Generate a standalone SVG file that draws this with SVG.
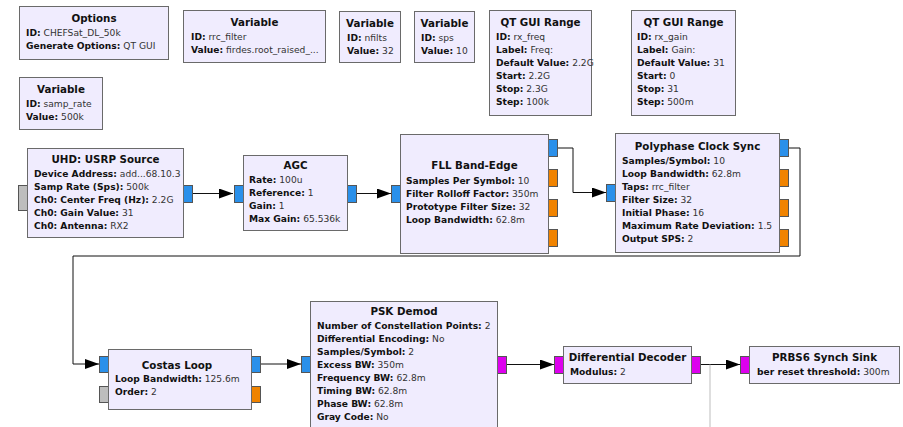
<svg xmlns="http://www.w3.org/2000/svg" width="903" height="427" viewBox="0 0 903 427">
  <defs>
    <style>
      .blk { fill: #f0ecfe; stroke: #6a6a6a; stroke-width: 1; }
      text { font-family: "DejaVu Sans", "Liberation Sans", sans-serif; font-size: 9.15px; fill: #111; }
      .ttl { font-weight: bold; text-anchor: middle; font-size: 10.3px; }
      .k { font-weight: bold; }
      .v { font-weight: normal; fill: #333; }
      .p { stroke: #555; stroke-width: 1; }
      .cpx { fill: #2a90ea; }
      .flt { fill: #f08300; }
      .msg { fill: #bdbdbd; }
      .byt { fill: #dd00ee; }
      .wire { fill: none; stroke: #111; stroke-width: 1; }
      .wire-off { fill: none; stroke: #bdbdbd; stroke-width: 1; }
    </style>
    <marker id="arrow" markerWidth="14" markerHeight="10" refX="14" refY="5" orient="auto" markerUnits="userSpaceOnUse">
      <path d="M0,0 L14,5 L0,10 Z" fill="#000"/>
    </marker>
  </defs>

  <rect width="903" height="427" fill="#fff"/>

  <!-- connections -->
  <g id="connections">
    <path class="wire" d="M193,193.5 H233" marker-end="url(#arrow)"/>
    <path class="wire" d="M357,193.5 H391" marker-end="url(#arrow)"/>
    <path class="wire" d="M558,148 H573 V192.5 H606" marker-end="url(#arrow)"/>
    <path class="wire" d="M789,148 H800 V256 H73 V364 H99" marker-end="url(#arrow)"/>
    <path class="wire" d="M260,364 H301" marker-end="url(#arrow)"/>
    <path class="wire" d="M506,364.5 H554" marker-end="url(#arrow)"/>
    <path class="wire" d="M700,364.5 H740" marker-end="url(#arrow)"/>
    <path class="wire-off" d="M710,364.5 V427"/>
  </g>

  <!-- variable / option blocks -->
  <g id="options">
    <rect class="blk" x="19.5" y="6.5" width="149" height="53"/>
    <text class="ttl" x="94" y="22">Options</text>
    <text x="26" y="36"><tspan class="k">ID:</tspan><tspan class="v"> CHEFSat_DL_50k</tspan></text>
    <text x="26" y="49"><tspan class="k">Generate Options:</tspan><tspan class="v"> QT GUI</tspan></text>
  </g>

  <g id="var_rrc_filter">
    <rect class="blk" x="183.5" y="10.5" width="142" height="52"/>
    <text class="ttl" x="254.5" y="26">Variable</text>
    <text x="191" y="40"><tspan class="k">ID:</tspan><tspan class="v"> rrc_filter</tspan></text>
    <text x="191" y="53"><tspan class="k">Value:</tspan><tspan class="v"> firdes.root_raised_...</tspan></text>
  </g>

  <g id="var_samp_rate">
    <rect class="blk" x="19.5" y="77.5" width="83" height="52"/>
    <text class="ttl" x="61" y="93">Variable</text>
    <text x="26" y="107"><tspan class="k">ID:</tspan><tspan class="v"> samp_rate</tspan></text>
    <text x="26" y="120"><tspan class="k">Value:</tspan><tspan class="v"> 500k</tspan></text>
  </g>

  <g id="var_nfilts">
    <rect class="blk" x="339.5" y="11.5" width="61" height="51"/>
    <text class="ttl" x="370" y="27">Variable</text>
    <text x="347" y="41"><tspan class="k">ID:</tspan><tspan class="v"> nfilts</tspan></text>
    <text x="347" y="54"><tspan class="k">Value:</tspan><tspan class="v"> 32</tspan></text>
  </g>

  <g id="var_sps">
    <rect class="blk" x="414.5" y="11.5" width="60" height="51"/>
    <text class="ttl" x="444.5" y="27">Variable</text>
    <text x="421" y="41"><tspan class="k">ID:</tspan><tspan class="v"> sps</tspan></text>
    <text x="421" y="54"><tspan class="k">Value:</tspan><tspan class="v"> 10</tspan></text>
  </g>

  <g id="range_rx_freq">
    <rect class="blk" x="489.5" y="10.5" width="102" height="105"/>
    <text class="ttl" x="540.5" y="26">QT GUI Range</text>
    <text x="496" y="40"><tspan class="k">ID:</tspan><tspan class="v"> rx_freq</tspan></text>
    <text x="496" y="53"><tspan class="k">Label:</tspan><tspan class="v"> Freq:</tspan></text>
    <text x="496" y="66"><tspan class="k">Default Value:</tspan><tspan class="v"> 2.2G</tspan></text>
    <text x="496" y="79"><tspan class="k">Start:</tspan><tspan class="v"> 2.2G</tspan></text>
    <text x="496" y="92"><tspan class="k">Stop:</tspan><tspan class="v"> 2.3G</tspan></text>
    <text x="496" y="105"><tspan class="k">Step:</tspan><tspan class="v"> 100k</tspan></text>
  </g>

  <g id="range_rx_gain">
    <rect class="blk" x="631.5" y="10.5" width="104" height="105"/>
    <text class="ttl" x="683.5" y="26">QT GUI Range</text>
    <text x="637" y="40"><tspan class="k">ID:</tspan><tspan class="v"> rx_gain</tspan></text>
    <text x="637" y="53"><tspan class="k">Label:</tspan><tspan class="v"> Gain:</tspan></text>
    <text x="637" y="66"><tspan class="k">Default Value:</tspan><tspan class="v"> 31</tspan></text>
    <text x="637" y="79"><tspan class="k">Start:</tspan><tspan class="v"> 0</tspan></text>
    <text x="637" y="92"><tspan class="k">Stop:</tspan><tspan class="v"> 31</tspan></text>
    <text x="637" y="105"><tspan class="k">Step:</tspan><tspan class="v"> 500m</tspan></text>
  </g>

  <!-- signal chain -->
  <g id="usrp_source">
    <rect class="p msg" x="18.5" y="185.5" width="9" height="25"/>
    <rect class="p cpx" x="183.5" y="185.5" width="9" height="17"/>
    <rect class="blk" x="27.5" y="148.5" width="156" height="89"/>
    <text class="ttl" x="105.5" y="163">UHD: USRP Source</text>
    <text x="34" y="177"><tspan class="k">Device Address:</tspan><tspan class="v"> add...68.10.3</tspan></text>
    <text x="34" y="190"><tspan class="k">Samp Rate (Sps):</tspan><tspan class="v"> 500k</tspan></text>
    <text x="34" y="203"><tspan class="k">Ch0: Center Freq (Hz):</tspan><tspan class="v"> 2.2G</tspan></text>
    <text x="34" y="216"><tspan class="k">Ch0: Gain Value:</tspan><tspan class="v"> 31</tspan></text>
    <text x="34" y="229"><tspan class="k">Ch0: Antenna:</tspan><tspan class="v"> RX2</tspan></text>
  </g>

  <g id="agc">
    <rect class="p cpx" x="234.5" y="185.5" width="9" height="17"/>
    <rect class="p cpx" x="347.5" y="185.5" width="9" height="17"/>
    <rect class="blk" x="243.5" y="155.5" width="104" height="75"/>
    <text class="ttl" x="295.5" y="169">AGC</text>
    <text x="249" y="183"><tspan class="k">Rate:</tspan><tspan class="v"> 100u</tspan></text>
    <text x="249" y="196"><tspan class="k">Reference:</tspan><tspan class="v"> 1</tspan></text>
    <text x="249" y="209"><tspan class="k">Gain:</tspan><tspan class="v"> 1</tspan></text>
    <text x="249" y="222"><tspan class="k">Max Gain:</tspan><tspan class="v"> 65.536k</tspan></text>
  </g>

  <g id="fll_band_edge">
    <rect class="p cpx" x="391.5" y="185.5" width="9" height="17"/>
    <rect class="p cpx" x="548.5" y="139.5" width="9" height="17"/>
    <rect class="p flt" x="548.5" y="169.5" width="9" height="17"/>
    <rect class="p flt" x="548.5" y="199.5" width="9" height="17"/>
    <rect class="p flt" x="548.5" y="229.5" width="9" height="17"/>
    <rect class="blk" x="400.5" y="134.5" width="148" height="119"/>
    <text class="ttl" x="474.5" y="169">FLL Band-Edge</text>
    <text x="406" y="184"><tspan class="k">Samples Per Symbol:</tspan><tspan class="v"> 10</tspan></text>
    <text x="406" y="197"><tspan class="k">Filter Rolloff Factor:</tspan><tspan class="v"> 350m</tspan></text>
    <text x="406" y="210"><tspan class="k">Prototype Filter Size:</tspan><tspan class="v"> 32</tspan></text>
    <text x="406" y="223"><tspan class="k">Loop Bandwidth:</tspan><tspan class="v"> 62.8m</tspan></text>
  </g>

  <g id="clock_sync">
    <rect class="p cpx" x="606.5" y="184.5" width="9" height="17"/>
    <rect class="p cpx" x="779.5" y="139.5" width="9" height="17"/>
    <rect class="p flt" x="779.5" y="169.5" width="9" height="17"/>
    <rect class="p flt" x="779.5" y="199.5" width="9" height="17"/>
    <rect class="p flt" x="779.5" y="229.5" width="9" height="17"/>
    <rect class="blk" x="615.5" y="133.5" width="164" height="119"/>
    <text class="ttl" x="697.5" y="150">Polyphase Clock Sync</text>
    <text x="622" y="164"><tspan class="k">Samples/Symbol:</tspan><tspan class="v"> 10</tspan></text>
    <text x="622" y="177"><tspan class="k">Loop Bandwidth:</tspan><tspan class="v"> 62.8m</tspan></text>
    <text x="622" y="190"><tspan class="k">Taps:</tspan><tspan class="v"> rrc_filter</tspan></text>
    <text x="622" y="203"><tspan class="k">Filter Size:</tspan><tspan class="v"> 32</tspan></text>
    <text x="622" y="216"><tspan class="k">Initial Phase:</tspan><tspan class="v"> 16</tspan></text>
    <text x="622" y="229"><tspan class="k">Maximum Rate Deviation:</tspan><tspan class="v"> 1.5</tspan></text>
    <text x="622" y="242"><tspan class="k">Output SPS:</tspan><tspan class="v"> 2</tspan></text>
  </g>

  <g id="costas_loop">
    <rect class="p cpx" x="99.5" y="356.5" width="9" height="16"/>
    <rect class="p msg" x="99.5" y="386.5" width="9" height="16"/>
    <rect class="p cpx" x="251.5" y="356.5" width="9" height="16"/>
    <rect class="p flt" x="251.5" y="386.5" width="9" height="16"/>
    <rect class="blk" x="108.5" y="349.5" width="143" height="60"/>
    <text class="ttl" x="177" y="369">Costas Loop</text>
    <text x="115" y="382"><tspan class="k">Loop Bandwidth:</tspan><tspan class="v"> 125.6m</tspan></text>
    <text x="115" y="395"><tspan class="k">Order:</tspan><tspan class="v"> 2</tspan></text>
  </g>

  <g id="psk_demod">
    <rect class="p cpx" x="301.5" y="356.5" width="9" height="16"/>
    <rect class="p byt" x="497.5" y="356.5" width="9" height="17"/>
    <rect class="blk" x="310.5" y="301.5" width="187" height="132"/>
    <text class="ttl" x="404" y="315">PSK Demod</text>
    <text x="317" y="329"><tspan class="k">Number of Constellation Points:</tspan><tspan class="v"> 2</tspan></text>
    <text x="317" y="342"><tspan class="k">Differential Encoding:</tspan><tspan class="v"> No</tspan></text>
    <text x="317" y="355"><tspan class="k">Samples/Symbol:</tspan><tspan class="v"> 2</tspan></text>
    <text x="317" y="368"><tspan class="k">Excess BW:</tspan><tspan class="v"> 350m</tspan></text>
    <text x="317" y="381"><tspan class="k">Frequency BW:</tspan><tspan class="v"> 62.8m</tspan></text>
    <text x="317" y="394"><tspan class="k">Timing BW:</tspan><tspan class="v"> 62.8m</tspan></text>
    <text x="317" y="407"><tspan class="k">Phase BW:</tspan><tspan class="v"> 62.8m</tspan></text>
    <text x="317" y="420"><tspan class="k">Gray Code:</tspan><tspan class="v"> No</tspan></text>
  </g>

  <g id="diff_decoder">
    <rect class="p byt" x="554.5" y="356.5" width="9" height="17"/>
    <rect class="p byt" x="691.5" y="356.5" width="9" height="17"/>
    <rect class="blk" x="563.5" y="346.5" width="128" height="37"/>
    <text class="ttl" x="627.5" y="361">Differential Decoder</text>
    <text x="570" y="375"><tspan class="k">Modulus:</tspan><tspan class="v"> 2</tspan></text>
  </g>

  <g id="prbs6_sink">
    <rect class="p byt" x="740.5" y="356.5" width="9" height="17"/>
    <rect class="blk" x="749.5" y="346.5" width="150" height="37"/>
    <text class="ttl" x="824.5" y="361">PRBS6 Synch Sink</text>
    <text x="757" y="375"><tspan class="k">ber reset threshold:</tspan><tspan class="v"> 300m</tspan></text>
  </g>
</svg>
